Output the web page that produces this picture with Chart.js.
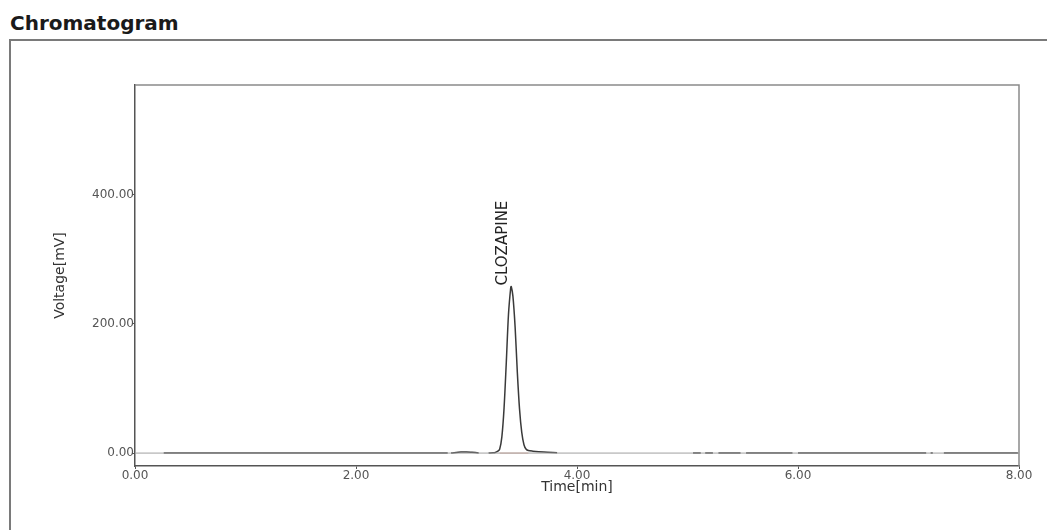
<!DOCTYPE html>
<html>
<head>
<meta charset="utf-8">
<script src="https://cdn.jsdelivr.net/npm/chart.js@4"></script>
<style>
  html, body { margin: 0; padding: 0; background: #fff; }
  body { width: 1047px; height: 530px; position: relative; overflow: hidden; font-family: "DejaVu Sans", sans-serif; }
  #title { position: absolute; left: 10px; top: 13px; font-size: 20px; line-height: 20px; font-weight: bold; color: #1a1a1a; }
  #frame { position: absolute; left: 9px; top: 39px; width: 1100px; height: 600px; border-top: 2px solid #7a7a7a; border-left: 2px solid #7a7a7a; }
  #chart { position: absolute; left: 0; top: 0; }
</style>
</head>
<body>
<div id="title">Chromatogram</div>
<div id="frame"></div>
<canvas id="chart" width="1047" height="530"></canvas>
<script>
// detector trace (null = where only the zero line shows through)
var traceTime = [0.26, 1.0, 2.0, 2.83, 2.845, 2.86, 2.95, 3.00, 3.05, 3.11, 3.155,
    3.20, 3.24, 3.26, 3.28, 3.30, 3.32, 3.34, 3.36, 3.38, 3.40, 3.405, 3.42, 3.44, 3.46,
    3.48, 3.50, 3.52, 3.54, 3.56, 3.60, 3.70, 3.82, 4.4,
    5.05, 5.12, 5.14, 5.16, 5.23, 5.255, 5.28, 5.48, 5.505, 5.53, 5.95, 5.975,
    6.00, 7.16, 7.18, 7.20, 7.22, 7.27, 7.32, 7.99];
var traceMv = [0, 0, 0, 0, null, 0, 1.5, 1.8, 1.2, 0.3, null,
    0, 0.5, 1, 2.5, 6, 25, 70, 140, 215, 256, 258, 243, 195, 125,
    68, 32, 13, 6, 4, 3, 1.5, 0.5, null,
    0, 0, null, 0, 0, null, 0, 0, null, 0, 0, null,
    0, 0, null, 0, 0, null, 0, 0];

// peak integration baseline
var baseTime = [3.30, 3.56];
var baseMv = [0, 0];

// zero line
var zeroTime = [0, 8];
var zeroMv = [0, 0];

// peak table
var peakNames = ['CLOZAPINE'];
var peakTimes = [3.405];
var peakHeights = [258];

var xTicks = [0, 2, 4, 6, 8];
var yTicks = [0, 200, 400];

function pts(xs, ys) {
    return xs.map(function (t, i) { return { x: t, y: ys[i] }; });
}

var peakLabels = {
    id: 'peakLabels',
    afterDatasetsDraw: function (chart) {
        var ctx = chart.ctx, xs = chart.scales.x, ys = chart.scales.y;
        peakNames.forEach(function (name, i) {
            var px = xs.getPixelForValue(peakTimes[i]);
            var py = ys.getPixelForValue(peakHeights[i]);
            ctx.save();
            ctx.font = '15px "DejaVu Sans"';
            ctx.fillStyle = '#222';
            ctx.translate(px - 8, py - 1);
            ctx.rotate(-Math.PI / 2);
            ctx.textAlign = 'left';
            ctx.textBaseline = 'middle';
            ctx.fillText(name, 0, 0);
            ctx.restore();
        });
    }
};

// top and right edges of the plot box
var plotBox = {
    id: 'plotBox',
    afterDraw: function (chart) {
        var a = chart.chartArea, ctx = chart.ctx;
        ctx.save();
        ctx.strokeStyle = '#8a8a8a';
        ctx.lineWidth = 1.5;
        ctx.beginPath();
        ctx.moveTo(a.left, a.top);
        ctx.lineTo(a.right, a.top);
        ctx.lineTo(a.right, a.bottom);
        ctx.stroke();
        ctx.restore();
    }
};

Chart.defaults.font.family = '"DejaVu Sans", sans-serif';

new Chart(document.getElementById('chart'), {
    type: 'line',
    data: {
        datasets: [
            { data: pts(zeroTime, zeroMv), borderColor: '#a0a0a0', borderWidth: 1, pointRadius: 0, tension: 0 },
            { data: pts(baseTime, baseMv), borderColor: '#eab0a0', borderWidth: 1, pointRadius: 0, tension: 0 },
            { data: pts(traceTime, traceMv), borderColor: '#3a3a3a', borderWidth: 1.5, pointRadius: 0, tension: 0.3, spanGaps: false }
        ]
    },
    options: {
        responsive: false,
        animation: false,
        events: [],
        layout: { padding: { top: 85, right: 28, left: 0, bottom: 0 } },
        plugins: { legend: { display: false }, tooltip: { enabled: false } },
        scales: {
            x: {
                type: 'linear',
                min: 0,
                max: 8,
                afterFit: function (s) { s.height = 64; },
                afterBuildTicks: function (s) { s.ticks = xTicks.map(function (v) { return { value: v }; }); },
                grid: { drawOnChartArea: false, tickLength: 3, color: '#555' },
                border: { display: true, color: '#555', width: 1.5 },
                ticks: {
                    color: '#555',
                    padding: 0,
                    maxRotation: 0,
                    font: { size: 12 },
                    callback: function (v) { return Number(v).toFixed(2); }
                },
                title: { display: true, text: 'Time[min]', color: '#333', font: { size: 14 }, padding: { top: 0, bottom: 34 } }
            },
            y: {
                type: 'linear',
                min: -20,
                max: 570,
                afterFit: function (s) { s.width = 135; },
                afterBuildTicks: function (s) { s.ticks = yTicks.map(function (v) { return { value: v }; }); },
                grid: { drawOnChartArea: false, tickLength: 3, color: '#555' },
                border: { display: true, color: '#555', width: 1.5 },
                ticks: {
                    color: '#555',
                    padding: -2,
                    font: { size: 12 },
                    callback: function (v) { return Number(v).toFixed(2); }
                },
                title: { display: true, text: 'Voltage[mV]', color: '#333', font: { size: 14 }, padding: { top: 52, bottom: 0 } }
            }
        }
    },
    plugins: [peakLabels, plotBox]
});
</script>
</body>
</html>
